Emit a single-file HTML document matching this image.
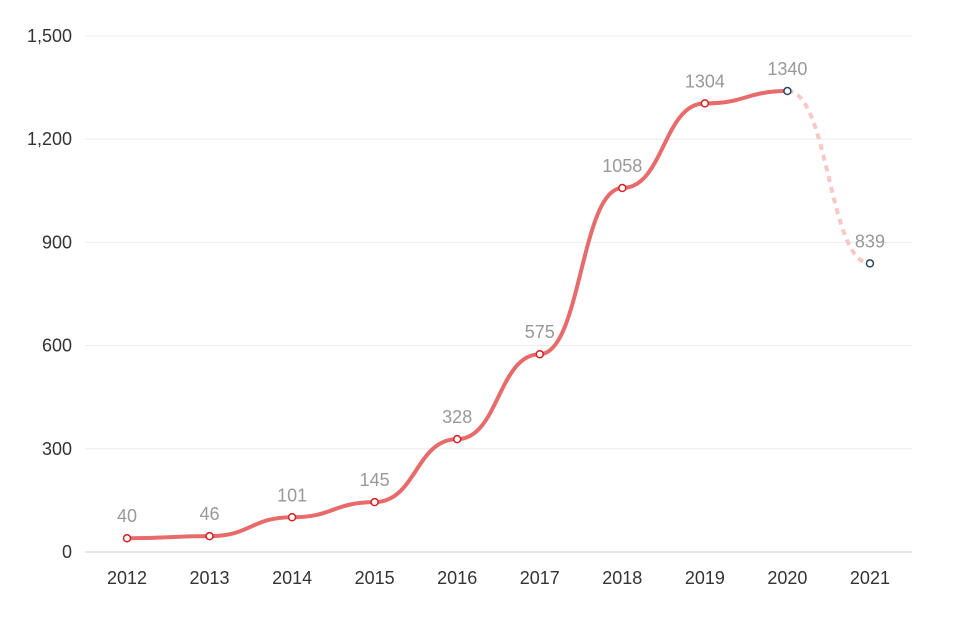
<!DOCTYPE html>
<html><head><meta charset="utf-8"><style>
body{margin:0;background:#fff}
svg{display:block;font-family:"Liberation Sans",sans-serif}
</style></head><body>
<svg id="chart" width="953" height="624"></svg>
<script>
const years=["2012","2013","2014","2015","2016","2017","2018","2019","2020","2021"];
const values=[40,46,101,145,328,575,1058,1304,1340,839];
const yTicks=[0,300,600,900,1200,1500];
const yTickLabels=["0","300","600","900","1,200","1,500"];
const actualCount=9;
const NS="http://www.w3.org/2000/svg";
const svg=document.getElementById('chart');
const x0=127,dx=82.55,y0=552,ppu=516/1500;
const X=i=>x0+i*dx, Y=v=>y0-v*ppu;
function mk(t,a,p){const e=document.createElementNS(NS,t);for(const k in a)e.setAttribute(k,a[k]);(p||svg).appendChild(e);return e;}
yTicks.forEach((t,i)=>{
  const g=mk('line',{x1:85,x2:912,y1:Y(t),y2:Y(t),stroke:t===0?'#ccc':'#ececec','stroke-width':1});
  
  
  const l=mk('text',{x:72,y:Y(t)+6,'text-anchor':'end','font-size':18,fill:'#333'});
  l.textContent=yTickLabels[i];
  
  
});
years.forEach((yr,i)=>{
  const l=mk('text',{x:X(i),y:584,'text-anchor':'middle','font-size':18,fill:'#333'});
  l.textContent=yr;
  
  
});
function seg(i){const xa=X(i),xb=X(i+1),ya=Y(values[i]),yb=Y(values[i+1]),m=(xb-xa)/2;
  return `C${xa+m},${ya} ${xb-m},${yb} ${xb},${yb}`;}
let d=`M${X(0)},${Y(values[0])}`;
for(let i=0;i<actualCount-1;i++)d+=seg(i);
const line=mk('path',{d,fill:'none',stroke:'#e86b6b','stroke-width':4,'stroke-linecap':'round'});


let d2=`M${X(actualCount-1)},${Y(values[actualCount-1])}`;
for(let i=actualCount-1;i<values.length-1;i++)d2+=seg(i);
const fl=mk('path',{d:d2,fill:'none',stroke:'#f7c8c8','stroke-width':4,'stroke-dasharray':'6 5'});


values.forEach((v,i)=>{
  const c=mk('circle',{cx:X(i),cy:Y(v),r:3.5,fill:'#fff',stroke:i>=actualCount-1?'#2a4560':'#d42020','stroke-width':1.5});
  
  
  const t=mk('text',{x:X(i),y:Y(v)-16,'text-anchor':'middle','font-size':18,fill:'#999'});
  t.textContent=v;
  
  
});
</script>
</body></html>
